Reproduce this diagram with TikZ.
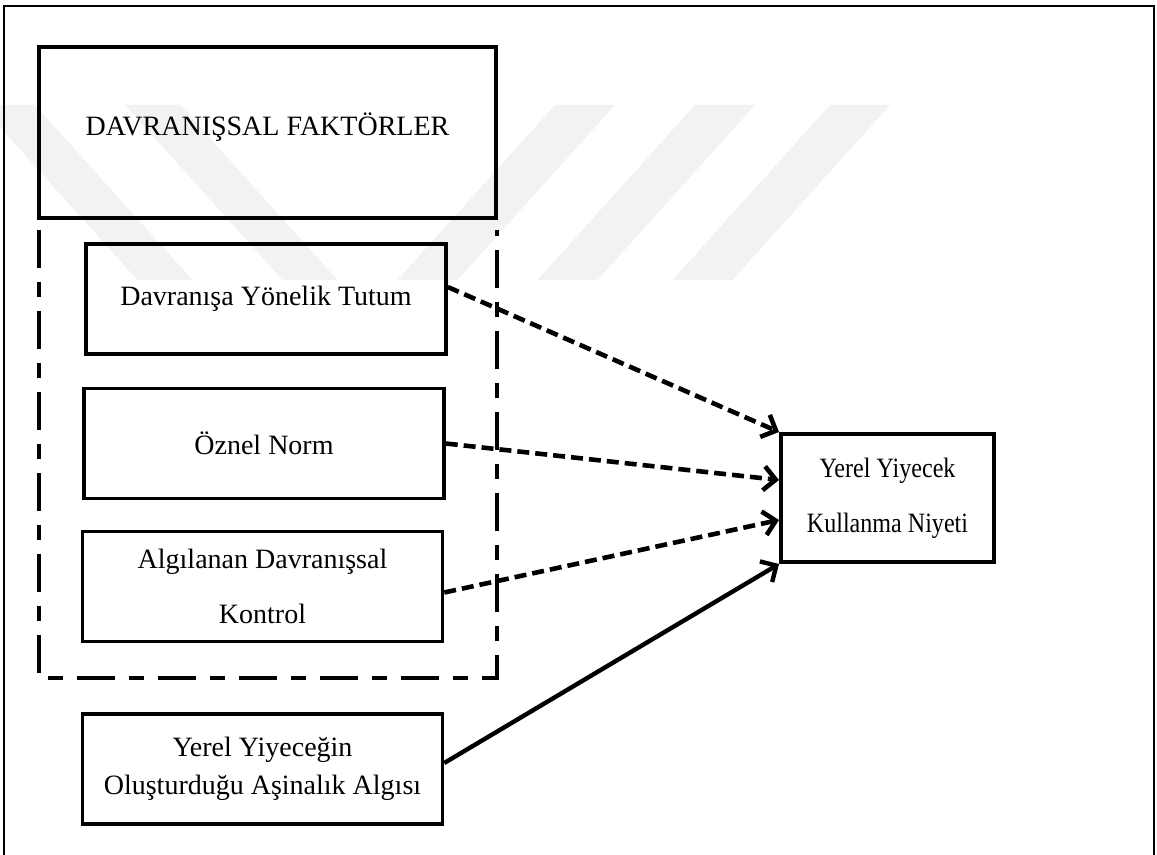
\documentclass[tikz,border=0pt]{standalone}
\usepackage{fontspec}
\setmainfont{Liberation Serif}
\newfontfamily\narrowserif[FakeStretch=0.86]{Liberation Serif}
\usepackage{tikz}
\usetikzlibrary{arrows.meta}

\begin{document}
\begin{tikzpicture}[x=0.5pt, y=-0.5pt, >={Straight Barb[length=6pt, width=12pt]},
    box/.style={draw, line width=1.75pt, align=center, inner sep=0pt,
        minimum width=180pt, minimum height=55pt, font=\fontsize{14}{19}\selectfont},
    dashline/.style={line width=2.3pt, dash pattern=on 6pt off 3pt},
    solidline/.style={line width=2.2pt},
    wmark/.style={fill=black!5}]
        \useasboundingbox (0,0) rectangle (1157,855);

        % Watermark
        \begin{scope}
            \clip (0,105) rectangle (1000,280);
            \foreach \a in {555,695,830}
                \fill[wmark] (\a,105) -- ++(60,0) -- ++(-180,200) -- ++(-60,0) -- cycle;
            \foreach \a in {-20,125}
                \fill[wmark] (\a,105) -- ++(55,0) -- ++(180,200) -- ++(-55,0) -- cycle;
        \end{scope}

        % Frame
        \draw[line width=1.2pt] (4,855) -- (4,6) -- (1154,6) -- (1154,855);

        % Nodes
        \draw[line width=2.2pt, dash pattern=on 19pt off 7pt on 7.5pt off 7pt] (39,230) |- (497,678) -- (497,230);
        \node[box, line width=2pt, minimum width=228.5pt, minimum height=85.5pt, text depth=8pt] (grp) at (267.5,132.5) {DAVRANIŞSAL FAKTÖRLER};
        \node[box] (att) at (266,299) {Davranışa Yönelik Tutum};
        \node[box] (norm) at (264,443.5) {Öznel Norm};
        \node[box, font=\fontsize{14}{27.5}\selectfont] (ctrl) at (262.5,586.5) {Algılanan Davranışsal\\Kontrol};
        \node[box] (fam) at (262.5,769) {Yerel Yiyeceğin\\Oluşturduğu Aşinalık Algısı};
        \node[box, line width=2pt, minimum width=106.5pt, minimum height=64pt,
            font=\narrowserif\fontsize{14}{27.5}\selectfont] (intent) at (887.5,498) {Yerel Yiyecek\\Kullanma Niyeti};

        % Directed edges
        \draw[dashline, ->] ([yshift=6pt]att.east) -- (intent.north west);
        \draw[dashline, ->] (norm.east) -- ([yshift=9pt]intent.west);
        \draw[dashline, ->] ([yshift=-3pt]ctrl.east) -- ([yshift=-11pt]intent.west);
        \draw[solidline, ->] ([yshift=3pt]fam.east) -- (intent.south west);
    \end{tikzpicture}
\end{document}
